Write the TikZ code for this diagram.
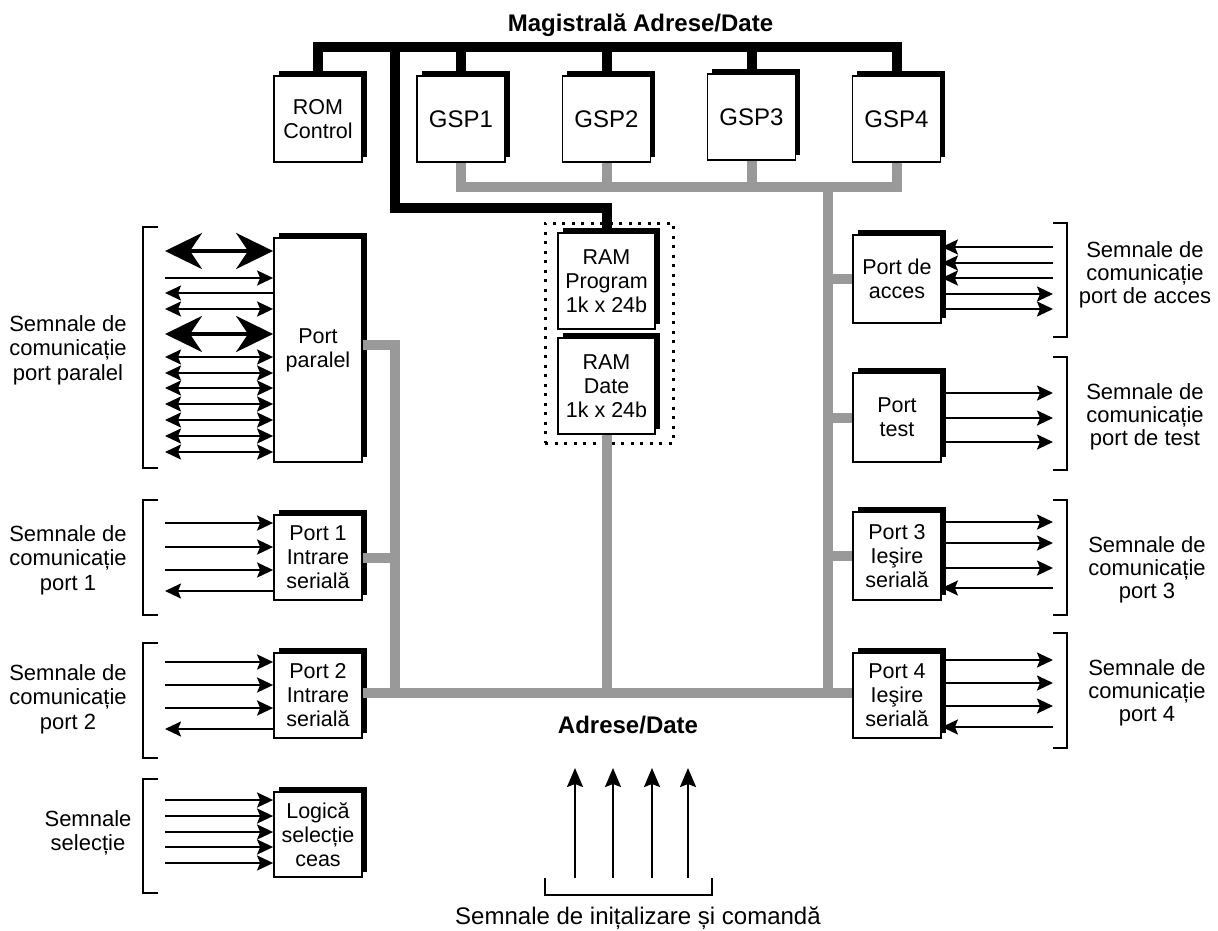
\documentclass[tikz,border=0pt]{standalone}
\usepackage{fontspec}
\setmainfont{Liberation Sans}
\usetikzlibrary{arrows.meta,shadows}
\definecolor{busgray}{HTML}{999999}
\begin{document}
\begin{tikzpicture}[x=1pt,y=-1pt,
  blk/.style={draw=black,line width=1.8pt,fill=white,inner sep=0pt,align=center,
    font=\fontsize{21.5pt}{24pt}\selectfont,
    general shadow={fill=black,shadow xshift=4.5pt,shadow yshift=5pt}},
  gspbox/.style={blk,minimum width=88pt,minimum height=86pt,font=\fontsize{24pt}{26pt}\selectfont},
  lbox/.style={blk,minimum width=88pt},
  rambox/.style={blk,minimum width=97pt,minimum height=96pt},
  lbl/.style={align=center,inner sep=0pt,font=\fontsize{22pt}{24.5pt}\selectfont},
  rlbl/.style={align=center,inner sep=0pt,font=\fontsize{22pt}{23pt}\selectfont},
  boldlbl/.style={inner sep=0pt,font=\fontsize{24pt}{26pt}\selectfont\bfseries},
  bus/.style={line width=10pt,black},
  gbus/.style={line width=10pt,busgray},
  sig/.style={line width=2.2pt,-{Stealth[length=16pt,width=15pt,inset=3pt]}},
  dsig/.style={line width=2.2pt,{Stealth[length=16pt,width=15pt,inset=3pt]}-{Stealth[length=16pt,width=15pt,inset=3pt]}},
  bigsig/.style={line width=4pt,{Stealth[length=37pt,width=36pt,inset=12pt]}-{Stealth[length=37pt,width=36pt,inset=12pt]}},
  vsig/.style={line width=2.2pt,-{Stealth[length=19pt,width=16pt,inset=3pt]}},
  brk/.style={line width=2pt},
  dotframe/.style={draw,line width=3pt,dash pattern=on 3pt off 6.5pt,inner sep=0pt},
]
\fill[white] (0,0) rectangle (1218,931);
\useasboundingbox (0,0) rectangle (1218,931);

% title
\node[boldlbl] (title) at (640.5,25) {Magistrală Adrese/Date};

% top boxes
\node[blk,minimum width=88pt,minimum height=86pt] (rom) at (318,119) {ROM\\Control};
\node[gspbox] (g1) at (461,119) {GSP1};
\node[gspbox] (g2) at (606.5,119) {GSP2};
\node[gspbox] (g3) at (751.5,117) {GSP3};
\node[gspbox] (g4) at (896.5,119) {GSP4};

% RAM group
\node[dotframe,minimum width=128pt,minimum height=220pt] (ramgrp) at (609,333) {};
\node[rambox] (ramp) at (606.5,281) {RAM\\Program\\1k x 24b};
\node[rambox] (ramd) at (606.5,386) {RAM\\Date\\1k x 24b};

% left column
\node[lbox,minimum height=224pt] (ppar) at (318,350) {Port\\paralel};
\node[lbox,minimum height=85pt] (p1) at (318,557.5) {Port 1\\Intrare\\serială};
\node[lbox,minimum height=85pt] (p2) at (318,695.5) {Port 2\\Intrare\\serială};
\node[lbox,minimum height=85pt] (lsc) at (318,834.5) {Logică\\selecție\\ceas};

% right column
\node[lbox,minimum height=88pt] (acc) at (897,279) {Port de\\acces};
\node[lbox,minimum height=89pt] (tst) at (897,417.5) {Port\\test};
\node[lbox,minimum height=88pt] (p3) at (897,556) {Port 3\\Ieşire\\serială};
\node[lbox,minimum height=85pt] (p4) at (897,695.5) {Port 4\\Ieşire\\serială};

% black bus
\coordinate (busy) at (0,47);
\coordinate (Lx) at (395,208);
\draw[bus] (rom.north) -- (rom.north |- busy) -- (g4.north |- busy) -- (g4.north);
\foreach \n in {g1,g2,g3} \draw[bus] (\n.north) -- (\n.north |- busy);
\draw[bus] (Lx |- busy) -- (Lx) -- (ramp.north |- Lx) -- (ramp.north);

% gray bus
\coordinate (gy) at (828,187);
\coordinate (by) at (828,693);
\coordinate (lx) at (395,345);
\draw[gbus] (g1.south) -- (g1.south |- gy) -- (g4.south |- gy) -- (g4.south);
\foreach \n in {g2,g3} \draw[gbus] (\n.south) -- (\n.south |- gy);
\draw[gbus] (gy) -- (by) -- (p2.east |- by);
\draw[gbus] (acc.west) -- (acc.west -| gy);
\draw[gbus] (tst.west) -- (tst.west -| gy);
\draw[gbus] (p3.west) -- (p3.west -| gy);
\draw[gbus] (p4.west |- by) -- (by);
\draw[gbus] (ppar.east |- lx) -- (lx) -- (lx |- by);
\draw[gbus] (p1.east) -- (p1.east -| lx);
\draw[gbus] (ramd.south) -- (ramd.south |- by);

% left signals
\coordinate (Lend) at (165,0);
\draw[bigsig] (Lend |- 0,251) -- (ppar.west |- 0,251);
\draw[sig] (Lend |- 0,278) -- (ppar.west |- 0,278);
\draw[sig] (ppar.west |- 0,293) -- (Lend |- 0,293);
\draw[dsig] (Lend |- 0,309) -- (ppar.west |- 0,309);
\draw[bigsig] (Lend |- 0,334) -- (ppar.west |- 0,334);
\foreach \y in {357,373,388,404,420,436,452}
  \draw[dsig] (Lend |- 0,\y) -- (ppar.west |- 0,\y);

\foreach \y in {523,547,570} \draw[sig] (Lend |- 0,\y) -- (p1.west |- 0,\y);
\draw[sig] (p1.west |- 0,591) -- (Lend |- 0,591);
\foreach \y in {662,685,708} \draw[sig] (Lend |- 0,\y) -- (p2.west |- 0,\y);
\draw[sig] (p2.west |- 0,729) -- (Lend |- 0,729);
\foreach \y in {800,816,832,847,863} \draw[sig] (Lend |- 0,\y) -- (lsc.west |- 0,\y);

% right signals
\coordinate (Rend) at (1053,0);
\foreach \y in {247,263,278} \draw[sig] (Rend |- 0,\y) -- (acc.east |- 0,\y);
\foreach \y in {294,309} \draw[sig] (acc.east |- 0,\y) -- (Rend |- 0,\y);
\foreach \y in {393,418,442} \draw[sig] (tst.east |- 0,\y) -- (Rend |- 0,\y);
\foreach \y in {522,543,568} \draw[sig] (p3.east |- 0,\y) -- (Rend |- 0,\y);
\draw[sig] (Rend |- 0,588) -- (p3.east |- 0,588);
\foreach \y in {660,683,706} \draw[sig] (p4.east |- 0,\y) -- (Rend |- 0,\y);
\draw[sig] (Rend |- 0,727) -- (p4.east |- 0,727);

% bottom signals
\foreach \x in {575,613,652,688} \draw[vsig] (\x,878) -- (\x,768);

% brackets
\foreach \a/\b in {227/468,500/615,643/758,779/893}
  \draw[brk] (158,\a) -- (143,\a) -- (143,\b) -- (158,\b);
\foreach \a/\b in {223/337,357/470,500/615,633/748}
  \draw[brk] (1053,\a) -- (1067,\a) -- (1067,\b) -- (1053,\b);
\draw[brk] (545,878) -- (545,895) -- (712,895) -- (712,878);

% labels
\node[lbl] (lpar) at (68,350) {Semnale de\\comunicație\\port paralel};
\node[lbl] (lp1) at (68,560) {Semnale de\\comunicație\\port 1};
\node[lbl] (lp2) at (68,699) {Semnale de\\comunicație\\port 2};
\node[lbl] (lsel) at (88,833) {Semnale\\selecție};
\node[rlbl] (lacc) at (1145,275) {Semnale de\\comunicație\\port de acces};
\node[rlbl] (ltst) at (1145,417) {Semnale de\\comunicație\\port de test};
\node[rlbl] (lp3) at (1147,570) {Semnale de\\comunicație\\port 3};
\node[rlbl] (lp4) at (1147,693) {Semnale de\\comunicație\\port 4};
\node[boldlbl] (adr) at (628,725) {Adrese/Date};
\node[inner sep=0pt,font=\fontsize{24pt}{26pt}\selectfont] (init) at (638,918) {Semnale de inițalizare și comandă};
\end{tikzpicture}
\end{document}
